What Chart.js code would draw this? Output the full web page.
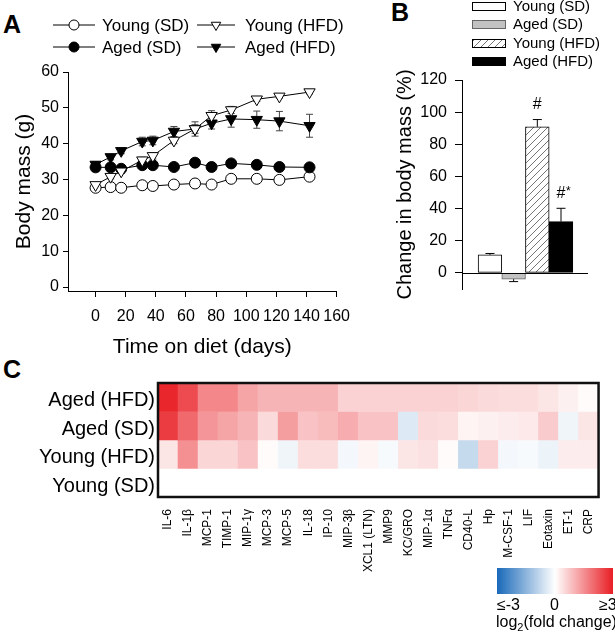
<!DOCTYPE html>
<html>
<head>
<meta charset="utf-8">
<script src="https://cdn.jsdelivr.net/npm/chart.js@4.4.1/dist/chart.umd.min.js"></script>
<style>
  body { margin: 0; background: #fff; width: 615px; height: 639px; position: relative; overflow: hidden;
         font-family: "Liberation Sans", Arial, sans-serif; color: #000; }
  canvas { position: absolute; }
  .letter { position: absolute; font-weight: bold; font-size: 25px; line-height: 25px; }
  .lbl { position: absolute; font-size: 16px; line-height: 16px; white-space: nowrap; }
</style>
</head>
<body>
<div class="letter" style="left:3px;top:12px">A</div>
<div class="letter" style="left:391px;top:0px">B</div>
<div class="letter" style="left:3px;top:357px">C</div>

<canvas id="massChart" width="360" height="365" style="left:0;top:0"></canvas>
<canvas id="changeChart" width="255" height="320" style="left:360px;top:0"></canvas>
<canvas id="heatChart" width="615" height="225" style="left:0;top:365px"></canvas>

<div id="colorBar" style="position:absolute;left:497px;top:568px;width:116px;height:26px;
     background:linear-gradient(to right, rgb(25,105,185), #fff 50%, rgb(232,30,36));"></div>
<div class="lbl" style="left:497px;top:597px">≤-3</div>
<div class="lbl" style="left:550px;top:597px">0</div>
<div class="lbl" style="left:599px;top:597px">≥3</div>
<div class="lbl" style="left:496px;top:614px">log<sub style="font-size:11px">2</sub>(fold change)</div>

<script>
Chart.defaults.font.family = '"Liberation Sans", Arial, sans-serif';
Chart.defaults.color = '#000';

// Panel A - body mass (g) over time on diet
const days = [0, 10, 17, 31, 38, 52, 66, 77, 90, 107, 122, 142];
const youngSD = [27.7, 27.9, 27.7, 28.4, 28.2, 28.6, 28.9, 28.6, 30.2, 30.2, 29.9, 30.8];
const agedSD = [33.4, 33.4, 33.0, 34.0, 34.0, 33.5, 34.7, 33.5, 34.5, 34.1, 33.5, 33.4];
const youngHFD = [28.5, 30.8, 32.3, 35.4, 36.6, 40.9, 44.1, 47.8, 49.4, 52.4, 53.2, 54.4];
const agedHFD = [34.2, 36.3, 38.0, 40.6, 40.9, 43.4, 44.1, 45.7, 46.9, 46.7, 46.3, 45.0];
const youngSDErr = [0.5, 0.4, 0.4, 0.4, 0.4, 0.4, 0.5, 0.4, 0.5, 0.5, 0.5, 0.5];
const agedSDErr = [0.6, 0.6, 0.6, 0.6, 0.6, 0.6, 0.6, 0.6, 0.6, 0.6, 0.6, 0.6];
const youngHFDErr = [0.5, 0.6, 0.6, 0.8, 0.9, 0.9, 1.2, 1.4, 1.0, 0.6, 0.5, 0.5];
const agedHFDErr = [0.8, 0.8, 0.8, 1.2, 1.2, 1.4, 2.0, 1.6, 2.3, 2.4, 2.7, 3.2];
const dayTicks = [0, 20, 40, 60, 80, 100, 120, 140, 160];
const massTicks = [0, 10, 20, 30, 40, 50, 60];

// Panel B - change in body mass (%)
const groups = ['Young (SD)', 'Aged (SD)', 'Young (HFD)', 'Aged (HFD)'];
const massChange = [11.2, -3.9, 90.9, 31.9];
const massChangeErr = [0.9, 1.5, 4.5, 8.3];
const changeMarks = ['', '', '#', '#*'];
const changeTicks = [0, 20, 40, 60, 80, 100, 120];

// Panel C - cytokine log2(fold change) vs Young (SD)
const cytokines = ['IL-6', 'IL-1β', 'MCP-1', 'TIMP-1', 'MIP-1γ', 'MCP-3', 'MCP-5', 'IL-18', 'IP-10', 'MIP-3β',
  'XCL1 (LTN)', 'MMP9', 'KC/GRO', 'MIP-1α', 'TNFα', 'CD40-L', 'Hp', 'M-CSF-1', 'LIF', 'Eotaxin', 'ET-1', 'CRP'];
const heatRows = ['Aged (HFD)', 'Aged (SD)', 'Young (HFD)', 'Young (SD)'];
const agedHFDLog2 = [2.9, 2.4, 1.6, 1.6, 1.2, 1.0, 1.0, 1.0, 1.0, 0.6, 0.6, 0.6, 0.6, 0.6, 0.6, 0.55, 0.5, 0.45, 0.45, 0.35, 0.2, 0.05];
const agedSDLog2 = [2.6, 2.0, 1.4, 1.2, 1.0, 0.5, 1.3, 0.8, 0.9, 1.1, 0.8, 0.8, -0.45, 0.5, 0.45, 0.15, 0.2, 0.25, 0.3, 0.7, -0.2, 0.35];
const youngHFDLog2 = [0.35, 1.5, 0.55, 0.55, 0.8, 0.05, -0.2, 0.45, 0.45, -0.15, 0.15, -0.1, 0.35, 0.4, 0.05, -0.75, 0.6, -0.15, -0.1, -0.25, 0.25, 0.25];
const youngSDLog2 = [0, 0, 0, 0, 0, 0, 0, 0, 0, 0, 0, 0, 0, 0, 0, 0, 0, 0, 0, 0, 0, 0];

// ---------- Panel A ----------
function massSeries(label, values, errors, style, fill, order) {
    return {
        label: label,
        data: days.map((d, k) => ({ x: d, y: values[k] })),
        errors: errors,
        order: order,
        borderColor: '#000',
        borderWidth: 1,
        pointStyle: style,
        pointRotation: style === 'triangle' ? 180 : 0,
        pointRadius: style === 'triangle' ? 6.5 : 5.5,
        pointBackgroundColor: fill,
        pointBorderColor: '#000',
        pointBorderWidth: 1
    };
}

const errorBarsA = {
    id: 'errorBarsA',
    beforeDatasetsDraw(chart) {
        const ctx = chart.ctx, y = chart.scales.y;
        ctx.save();
        ctx.strokeStyle = '#444';
        ctx.lineWidth = 1;
        chart.data.datasets.forEach((ds, i) => {
            chart.getDatasetMeta(i).data.forEach((pt, j) => {
                const v = ds.data[j].y, e = ds.errors[j];
                const top = y.getPixelForValue(v + e), bot = y.getPixelForValue(v - e);
                ctx.beginPath();
                ctx.moveTo(pt.x, top); ctx.lineTo(pt.x, bot);
                ctx.moveTo(pt.x - 3.5, top); ctx.lineTo(pt.x + 3.5, top);
                ctx.moveTo(pt.x - 3.5, bot); ctx.lineTo(pt.x + 3.5, bot);
                ctx.stroke();
            });
        });
        ctx.restore();
    }
};

// legend with a line through each marker, two rows
const legendA = {
    id: 'legendA',
    afterDraw(chart) {
        const ctx = chart.ctx;
        const slots = [[53, 95, 102, 25], [53, 95, 102, 47], [197, 235, 245, 25], [197, 235, 245, 47]];
        ctx.save();
        ctx.font = '17px "Liberation Sans", Arial, sans-serif';
        ctx.textBaseline = 'middle';
        chart.data.datasets.forEach((ds, i) => {
            const [x1, x2, tx, ty] = slots[i];
            ctx.strokeStyle = '#000';
            ctx.lineWidth = 1;
            ctx.beginPath(); ctx.moveTo(x1, ty); ctx.lineTo(x2, ty); ctx.stroke();
            ctx.fillStyle = ds.pointBackgroundColor;
            Chart.helpers.drawPoint(ctx, {
                pointStyle: ds.pointStyle, rotation: ds.pointRotation,
                radius: ds.pointStyle === 'triangle' ? 5.5 : 5, borderWidth: 1
            }, (x1 + x2) / 2, ty);
            ctx.fillStyle = '#000';
            ctx.fillText(ds.label, tx, ty + 1);
        });
        ctx.restore();
    }
};

new Chart(document.getElementById('massChart'), {
    type: 'line',
    data: {
        datasets: [
            massSeries('Young (SD)', youngSD, youngSDErr, 'circle', '#fff', 3),
            massSeries('Aged (SD)', agedSD, agedSDErr, 'circle', '#000', 2),
            massSeries('Young (HFD)', youngHFD, youngHFDErr, 'triangle', '#fff', 0),
            massSeries('Aged (HFD)', agedHFD, agedHFDErr, 'triangle', '#000', 1)
        ]
    },
    options: {
        responsive: false,
        animation: false,
        layout: { padding: { top: 72, right: 19, left: 0, bottom: 0 } },
        plugins: { legend: { display: false }, tooltip: { enabled: false } },
        scales: {
            x: {
                type: 'linear', min: -18.3, max: 160,
                afterBuildTicks: s => { s.ticks = dayTicks.map(v => ({ value: v })); },
                afterFit: s => { s.height = 74; },
                ticks: { font: { size: 16 }, padding: 10, maxRotation: 0 },
                grid: { drawOnChartArea: false, tickLength: 6, color: '#000' },
                border: { color: '#000' },
                title: { display: true, text: 'Time on diet (days)', font: { size: 21 }, padding: { top: 0, bottom: 5 } }
            },
            y: {
                min: -1.1, max: 60,
                afterBuildTicks: s => { s.ticks = massTicks.map(v => ({ value: v })); },
                afterFit: s => { s.width = 68; },
                ticks: { font: { size: 16 }, padding: 4 },
                grid: { drawOnChartArea: false, tickLength: 5, color: '#000' },
                border: { color: '#000' },
                title: { display: true, text: 'Body mass (g)', font: { size: 21 }, padding: { top: 12, bottom: 0 } }
            }
        }
    },
    plugins: [errorBarsA, legendA]
});

// ---------- Panel B ----------
function hatchPattern() {
    const c = document.createElement('canvas');
    c.width = 7; c.height = 7;
    const g = c.getContext('2d');
    g.fillStyle = '#fff';
    g.fillRect(0, 0, 7, 7);
    g.strokeStyle = '#666';
    g.lineWidth = 0.9;
    g.beginPath();
    g.moveTo(-1, 8); g.lineTo(8, -1);
    g.stroke();
    return g.createPattern(c, 'repeat');
}
const hatch = hatchPattern();
const barFills = ['#fff', '#c2c2c2', hatch, '#000'];
const barEdges = ['#000', '#666', '#000', '#000'];

// zero line, error bars and significance marks
const barExtrasB = {
    id: 'barExtrasB',
    afterDatasetsDraw(chart) {
        const ctx = chart.ctx, y = chart.scales.y, area = chart.chartArea;
        const bars = chart.getDatasetMeta(0).data;
        const zero = Math.round(y.getPixelForValue(0)) + 0.5;
        ctx.save();
        ctx.strokeStyle = '#000';
        ctx.lineWidth = 1;
        ctx.beginPath();
        ctx.moveTo(area.left, zero); ctx.lineTo(area.right, zero);
        ctx.stroke();
        bars.forEach((bar, j) => {
            const v = massChange[j];
            const tip = y.getPixelForValue(v + Math.sign(v) * massChangeErr[j]);
            const base = y.getPixelForValue(v);
            ctx.beginPath();
            ctx.moveTo(bar.x, base); ctx.lineTo(bar.x, tip);
            ctx.moveTo(bar.x - 4.5, tip); ctx.lineTo(bar.x + 4.5, tip);
            ctx.stroke();
            if (changeMarks[j]) {
                ctx.fillStyle = '#000';
                ctx.textBaseline = 'bottom';
                ctx.textAlign = 'center';
                ctx.font = '16px "Liberation Sans", Arial, sans-serif';
                ctx.fillText('#', bar.x, tip - 7);
                if (changeMarks[j].length > 1) {
                    ctx.font = '12px "Liberation Sans", Arial, sans-serif';
                    ctx.textAlign = 'left';
                    ctx.fillText('*', bar.x + 5, tip - 11);
                }
            }
        });
        ctx.restore();
    }
};

const legendB = {
    id: 'legendB',
    afterDraw(chart) {
        const ctx = chart.ctx;
        const tops = [2, 20, 39, 57];
        ctx.save();
        ctx.font = '15px "Liberation Sans", Arial, sans-serif';
        ctx.textBaseline = 'middle';
        groups.forEach((g, i) => {
            ctx.fillStyle = barFills[i];
            ctx.fillRect(112, tops[i], 34, 9);
            ctx.strokeStyle = barEdges[i];
            ctx.lineWidth = 1;
            ctx.strokeRect(112.5, tops[i] + 0.5, 33, 8);
            ctx.fillStyle = '#000';
            ctx.fillText(g, 153, tops[i] + 5);
        });
        ctx.restore();
    }
};

new Chart(document.getElementById('changeChart'), {
    type: 'bar',
    data: {
        datasets: [{
            label: 'Change in body mass',
            data: massChange.map((v, k) => ({ x: k, y: v })),
            backgroundColor: barFills,
            borderColor: barEdges,
            borderWidth: 1,
            borderSkipped: false,
            barPercentage: 1,
            categoryPercentage: 1
        }]
    },
    options: {
        responsive: false,
        animation: false,
        layout: { padding: { top: 80, right: 27, left: 0, bottom: 31 } },
        plugins: { legend: { display: false }, tooltip: { enabled: false } },
        scales: {
            x: {
                type: 'linear', min: -1.18, max: 4.14, offset: false,
                afterBuildTicks: s => { s.ticks = groups.map((g, k) => ({ value: k })); },
                afterFit: s => { s.height = 0; },
                ticks: { display: false },
                grid: { display: false, drawTicks: false },
                border: { display: false }
            },
            y: {
                min: -10, max: 120,
                afterBuildTicks: s => { s.ticks = changeTicks.map(v => ({ value: v })); },
                afterFit: s => { s.width = 102; },
                ticks: { font: { size: 16 }, padding: 8 },
                grid: { drawOnChartArea: false, tickLength: 7, color: '#000' },
                border: { color: '#000' },
                title: { display: true, text: 'Change in body mass (%)', font: { size: 20 }, padding: { top: 33, bottom: 0 } }
            }
        }
    },
    plugins: [barExtrasB, legendB]
});

// ---------- Panel C ----------
function heatColor(v) {
    const t = Math.min(Math.abs(v) / 3, 1);
    const end = v >= 0 ? [232, 30, 36] : [25, 105, 185];
    const c = end.map(e => Math.round(255 - t * (255 - e)));
    return `rgb(${c[0]}, ${c[1]}, ${c[2]})`;
}

const heatValues = [agedHFDLog2, agedSDLog2, youngHFDLog2, youngSDLog2];

const heatFrame = {
    id: 'heatFrame',
    afterDraw(chart) {
        const { ctx, chartArea: a } = chart;
        ctx.save();
        ctx.strokeStyle = '#111';
        ctx.lineWidth = 2.5;
        ctx.strokeRect(a.left, a.top, a.right - a.left, a.bottom - a.top);
        ctx.restore();
    }
};

new Chart(document.getElementById('heatChart'), {
    type: 'bar',
    data: {
        labels: cytokines,
        datasets: heatValues.map((vals, i) => ({
            label: heatRows[i],
            data: vals.map(() => [3 - i, 4 - i]),
            backgroundColor: vals.map(heatColor),
            borderWidth: 0,
            barPercentage: 1,
            categoryPercentage: 1,
            grouped: false
        }))
    },
    options: {
        responsive: false,
        animation: false,
        layout: { padding: { top: 18, right: 2, left: 0, bottom: 0 } },
        plugins: { legend: { display: false }, tooltip: { enabled: false } },
        scales: {
            x: {
                afterFit: s => { s.height = 93; },
                ticks: { font: { size: 12 }, padding: 12, minRotation: 90, maxRotation: 90, autoSkip: false },
                grid: { display: false, drawTicks: false },
                border: { display: false }
            },
            y: {
                min: 0, max: 4,
                // row labels sit a little below the cell centres in the original
                afterBuildTicks: s => { s.ticks = [3.37, 2.37, 1.37, 0.37].map(v => ({ value: v })); },
                afterFit: s => { s.width = 158; },
                ticks: { font: { size: 20 }, padding: 3, callback: v => heatRows[3 - Math.floor(v)] },
                grid: { display: false, drawTicks: false },
                border: { display: false }
            }
        }
    },
    plugins: [heatFrame]
});
</script>
</body>
</html>
